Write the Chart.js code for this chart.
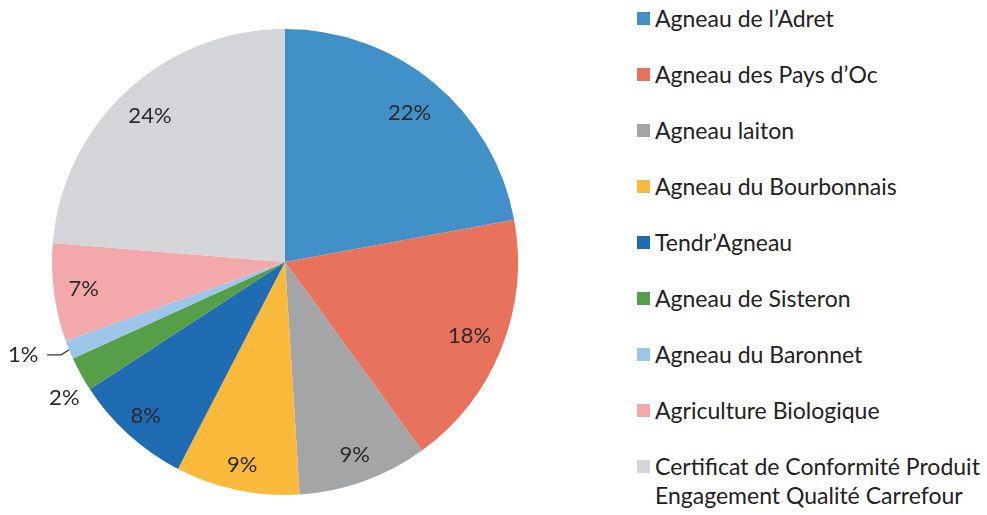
<!DOCTYPE html>
<html>
<head>
<meta charset="utf-8">
<script src="https://cdn.jsdelivr.net/npm/chart.js@4/dist/chart.umd.min.js"></script>
<style>
  body { margin: 0; background: #fff; width: 987px; height: 515px; overflow: hidden; position: relative; font-family: Lato, "Liberation Sans", sans-serif; }
  #wrap { position: absolute; left: 0; top: 0; width: 570px; height: 515px; }
  #legend { position: absolute; left: 637px; top: 4px; margin: 0; padding: 0; list-style: none; }
  #legend li { position: relative; padding-left: 18px; height: 56px; font-size: 23px; line-height: 29px; color: #222; white-space: nowrap; }
  #legend li span.box { position: absolute; left: 0; top: 8px; width: 13px; height: 13px; }
</style>
</head>
<body>
<div id="wrap"><canvas id="pie"></canvas></div>
<ul id="legend"></ul>
<script>
// slices, clockwise from 12 o'clock
const labels = [
    'Agneau de l\u2019Adret',
    'Agneau des Pays d\u2019Oc',
    'Agneau laiton',
    'Agneau du Bourbonnais',
    'Tendr\u2019Agneau',
    'Agneau de Sisteron',
    'Agneau du Baronnet',
    'Agriculture Biologique',
    ['Certificat de Conformité Produit', 'Engagement Qualité Carrefour']
];
const shares = [22.1, 17.9, 9.0, 8.6, 8.2, 2.4, 1.3, 6.8, 23.7];
const colors = ['#4290c8', '#e8735c', '#a4a5a7', '#f9ba3c', '#1f6cb3', '#579e48', '#9cc5ea', '#f3a9ab', '#d4d5d8'];

// legend as plain html so the last entry can wrap
const legend = document.getElementById('legend');
labels.forEach((label, i) => {
    const li = document.createElement('li');
    const box = document.createElement('span');
    box.className = 'box';
    box.style.background = colors[i];
    li.appendChild(box);
    li.appendChild(document.createTextNode(Array.isArray(label) ? label[0] : label));
    if (Array.isArray(label)) {
        li.appendChild(document.createElement('br'));
        li.appendChild(document.createTextNode(label[1]));
    }
    legend.appendChild(li);
});

// percentage labels, small slices go outside (1% gets a leader line)
const sliceLabels = {
    id: 'sliceLabels',
    afterDatasetsDraw(chart) {
        const ctx = chart.ctx;
        const meta = chart.getDatasetMeta(0);
        ctx.save();
        ctx.font = '22px Lato, "Liberation Sans", sans-serif';
        ctx.fillStyle = '#2a2a2a';
        ctx.textAlign = 'center';
        ctx.textBaseline = 'middle';
        meta.data.forEach((arc, i) => {
            const p = arc.getProps(['x', 'y', 'startAngle', 'endAngle', 'outerRadius'], true);
            const mid = (p.startAngle + p.endAngle) / 2;
            const pct = Math.round(shares[i]) + '%';
            // labels in the lower half and on the left sit a bit further out
            let r = p.outerRadius * (0.835 + 0.05 * Math.max(0, Math.sin(mid)) + 0.03 * Math.max(0, -Math.cos(mid)));
            if (shares[i] < 2) {
                // leader line out to the left
                const ex = p.x + Math.cos(mid) * p.outerRadius;
                const ey = p.y + Math.sin(mid) * p.outerRadius;
                ctx.strokeStyle = '#333';
                ctx.lineWidth = 1.2;
                ctx.beginPath();
                ctx.moveTo(ex, ey);
                ctx.lineTo(ex - 8, ey + 5);
                ctx.lineTo(ex - 22, ey + 5);
                ctx.stroke();
                ctx.fillText(pct, ex - 46, ey + 5);
                return;
            } else if (shares[i] < 3) {
                r = p.outerRadius * 1.12;
                ctx.fillText(pct, p.x + Math.cos(mid) * r + 8, p.y + Math.sin(mid) * r + 10);
                return;
            }
            ctx.fillText(pct, p.x + Math.cos(mid) * r, p.y + Math.sin(mid) * r);
        });
        ctx.restore();
    }
};

new Chart(document.getElementById('pie'), {
    type: 'pie',
    data: {
        labels: labels,
        datasets: [{
            data: shares,
            backgroundColor: colors,
            borderWidth: 0
        }]
    },
    options: {
        responsive: true,
        maintainAspectRatio: false,
        animation: false,
        layout: { padding: { top: 29, bottom: 20, left: 52, right: 52 } },
        plugins: {
            legend: { display: false },
            tooltip: { enabled: false }
        }
    },
    plugins: [sliceLabels]
});
</script>
</body>
</html>
